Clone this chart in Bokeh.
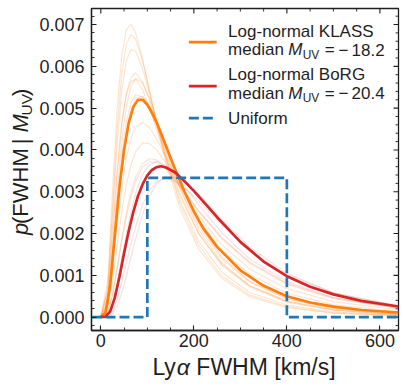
import math
from bokeh.plotting import figure
from bokeh.layouts import row, column
from bokeh.models import Range1d, LinearAxis, SingleIntervalTicker, NumeralTickFormatter, Label
from bokeh.embed import file_html
from bokeh.resources import INLINE

# ---------------- data ----------------
fwhm_main = [0, 10, 20, 30, 40, 50, 60, 70, 80, 90, 100, 110, 120, 130, 140, 150,
             160, 180, 200, 220, 250, 300, 350, 400, 450, 500, 560, 640]
p_klass = [0, 1.0e-4, 7.5e-4, 19.5e-4, 31.0e-4, 40.0e-4, 46.5e-4, 50.3e-4, 52.0e-4, 52.0e-4,
           50.8e-4, 48.9e-4, 46.6e-4, 43.8e-4, 41.0e-4, 38.1e-4, 35.3e-4, 30.0e-4, 25.3e-4,
           21.3e-4, 16.8e-4, 11.2e-4, 7.5e-4, 5.0e-4, 3.5e-4, 2.5e-4, 1.7e-4, 1.1e-4]
p_borg = [0, 0.1e-4, 1.3e-4, 4.6e-4, 9.6e-4, 15.3e-4, 20.6e-4, 25.2e-4, 29.0e-4, 31.8e-4,
          33.9e-4, 35.2e-4, 35.9e-4, 36.1e-4, 35.8e-4, 35.2e-4, 34.6e-4, 32.5e-4, 30.2e-4,
          27.7e-4, 23.9e-4, 18.0e-4, 13.3e-4, 9.8e-4, 7.25e-4, 5.45e-4, 3.9e-4, 2.55e-4]

fwhm_samples = [0, 15, 25, 35, 45, 55, 65, 75, 90, 105, 120, 140, 170, 210, 260, 320, 400, 500, 640]
klass_samples = [
    [0, 8.8e-4, 29.7e-4, 49.5e-4, 62.5e-4, 68.8e-4, 70.0e-4, 68.0e-4, 61.6e-4, 53.9e-4, 46.1e-4, 36.9e-4, 26.0e-4, 16.3e-4, 9.3e-4, 4.9e-4, 2.25e-4, 0.93e-4, 0.31e-4],
    [0, 7.2e-4, 25.8e-4, 44.8e-4, 58.2e-4, 65.3e-4, 67.6e-4, 66.5e-4, 61.3e-4, 54.2e-4, 46.9e-4, 38.0e-4, 27.1e-4, 17.2e-4, 9.9e-4, 5.3e-4, 2.5e-4, 1.0e-4, 0.35e-4],
    [0, 6.7e-4, 23.8e-4, 41.5e-4, 54.2e-4, 61.4e-4, 64.1e-4, 63.6e-4, 59.4e-4, 53.3e-4, 46.6e-4, 38.3e-4, 27.9e-4, 18.2e-4, 10.8e-4, 5.9e-4, 2.9e-4, 1.24e-4, 0.44e-4],
    [0, 4.8e-4, 18.5e-4, 33.7e-4, 45.8e-4, 53.6e-4, 57.4e-4, 58.4e-4, 56.2e-4, 51.8e-4, 46.5e-4, 39.2e-4, 29.7e-4, 20.1e-4, 12.5e-4, 7.2e-4, 3.6e-4, 1.64e-4, 0.62e-4],
    [0, 3.6e-4, 15.3e-4, 29.7e-4, 42.0e-4, 50.5e-4, 55.3e-4, 57.1e-4, 56.0e-4, 52.3e-4, 47.3e-4, 40.3e-4, 30.8e-4, 21.0e-4, 13.0e-4, 7.5e-4, 3.7e-4, 1.7e-4, 0.62e-4],
    [0, 3.6e-4, 14.5e-4, 27.6e-4, 38.8e-4, 46.7e-4, 51.3e-4, 53.2e-4, 52.7e-4, 49.8e-4, 45.6e-4, 39.5e-4, 30.9e-4, 21.8e-4, 14.0e-4, 8.4e-4, 4.4e-4, 2.1e-4, 0.83e-4],
    [0, 2.6e-4, 11.9e-4, 24.3e-4, 35.7e-4, 44.2e-4, 49.7e-4, 52.4e-4, 52.8e-4, 50.5e-4, 46.6e-4, 40.7e-4, 32.0e-4, 22.5e-4, 14.4e-4, 8.6e-4, 4.4e-4, 2.1e-4, 0.79e-4],
    [0, 2.7e-4, 11.0e-4, 21.4e-4, 30.9e-4, 38.1e-4, 42.8e-4, 45.5e-4, 46.6e-4, 45.3e-4, 42.7e-4, 38.3e-4, 31.4e-4, 23.4e-4, 16.0e-4, 10.2e-4, 5.7e-4, 3.0e-4, 1.28e-4],
    [0, 2.0e-4, 8.4e-4, 16.9e-4, 25.1e-4, 31.7e-4, 36.5e-4, 39.6e-4, 41.7e-4, 41.5e-4, 40.0e-4, 36.9e-4, 31.3e-4, 24.3e-4, 17.3e-4, 11.5e-4, 6.8e-4, 3.7e-4, 1.7e-4],
    [0, 1.1e-4, 5.4e-4, 11.9e-4, 18.9e-4, 25.0e-4, 30.0e-4, 33.6e-4, 36.8e-4, 37.9e-4, 37.6e-4, 35.7e-4, 31.5e-4, 25.4e-4, 18.8e-4, 12.9e-4, 7.9e-4, 4.4e-4, 2.1e-4],
    [0, 6.0e-4, 20.5e-4, 35.4e-4, 46.5e-4, 53.3e-4, 56.4e-4, 56.9e-4, 54.4e-4, 50.0e-4, 44.9e-4, 38.0e-4, 29.0e-4, 20.0e-4, 12.6e-4, 7.5e-4, 3.9e-4, 1.8e-4, 0.73e-4],
]
borg_samples = [
    [0, 0.45e-4, 3.0e-4, 7.9e-4, 13.9e-4, 20.0e-4, 25.3e-4, 29.7e-4, 34.2e-4, 36.5e-4, 37.2e-4, 36.3e-4, 32.8e-4, 27.0e-4, 20.2e-4, 13.9e-4, 8.5e-4, 4.7e-4, 2.1e-4],
    [0, 0.15e-4, 1.3e-4, 4.2e-4, 8.3e-4, 12.9e-4, 17.6e-4, 21.8e-4, 26.9e-4, 30.4e-4, 32.4e-4, 33.3e-4, 31.9e-4, 27.8e-4, 22.0e-4, 15.9e-4, 10.1e-4, 5.8e-4, 2.7e-4],
    [0, 1.0e-4, 5.0e-4, 11.3e-4, 18.0e-4, 24.0e-4, 28.9e-4, 32.6e-4, 35.9e-4, 37.2e-4, 37.0e-4, 35.3e-4, 31.3e-4, 25.4e-4, 19.0e-4, 13.2e-4, 8.1e-4, 4.6e-4, 2.2e-4],
    [0, 0.05e-4, 0.67e-4, 2.6e-4, 5.8e-4, 9.9e-4, 14.4e-4, 18.8e-4, 24.6e-4, 29.0e-4, 31.9e-4, 33.7e-4, 33.2e-4, 29.5e-4, 23.4e-4, 16.8e-4, 10.5e-4, 5.8e-4, 2.6e-4],
]
uniform_fwhm = [-20, 100, 100, 400, 400, 640]
uniform_p = [0, 0, 0.003333, 0.003333, 0, 0]

x_major_step, x_minor_step = 200, 50
y_major_step, y_minor_step = 0.001, 0.0002

# ---------------- styling / layout ----------------
ORANGE = "#ff7f0e"
RED = "#d62728"
BLUE = "#1f77b4"
INK = "#1f1f1f"
FONT = "Liberation Sans"

XR = (-20, 640)
YR = (-0.00032, 0.0073835)

YLAB_W = 36                  # left strip for rotated y label
MAIN_W, MAIN_H = 371, 354
XLAB_H = 34
MB_L, MB_R, MB_T, MB_B = 53, 9, 8, 24
FX0 = YLAB_W + MB_L
FX1 = YLAB_W + MAIN_W - MB_R
FY0 = MB_T
FY1 = MAIN_H - MB_B
MID = 0.35                   # cap-centre above the baseline, in em


def X(px):
    return XR[0] + (px - FX0) * (XR[1] - XR[0]) / (FX1 - FX0)


def Y(py):
    return YR[1] - (py - FY0) * (YR[1] - YR[0]) / (FY1 - FY0)


ADV = {' ': 278, '(': 333, ')': 333, '-': 333, '.': 278, '/': 278, '=': 584, '[': 278,
       ']': 278, '|': 260, 'A': 667, 'B': 667, 'F': 611, 'G': 778, 'H': 722, 'K': 667,
       'L': 556, 'M': 833, 'R': 722, 'S': 667, 'U': 722, 'V': 667, 'W': 944, 'a': 556,
       'd': 556, 'e': 556, 'f': 278, 'g': 556, 'i': 222, 'k': 500, 'l': 222, 'm': 833,
       'n': 556, 'o': 556, 'p': 556, 'r': 333, 's': 500, 'y': 500, 'u': 556, '\u2212': 584,
       '\u03b1': 578}


def tw(s, size):
    return sum(ADV.get(c, 556) for c in s) * size / 1000.0


def bare(fig):
    fig.background_fill_color = "white"
    fig.border_fill_color = "white"
    fig.outline_line_color = None
    fig.grid.visible = False


# ---------------- main figure ----------------
p = figure(width=MAIN_W, height=MAIN_H, output_backend="svg", toolbar_location=None,
           x_range=Range1d(*XR), y_range=Range1d(*YR),
           min_border_left=MB_L, min_border_right=MB_R, min_border_top=MB_T, min_border_bottom=MB_B,
           x_axis_location=None, y_axis_location=None)
bare(p)
p.outline_line_color = INK
p.outline_line_width = 1.3


def make_axis(side):
    ax = LinearAxis()
    if side == "below":
        ax.ticker = SingleIntervalTicker(interval=x_major_step, num_minor_ticks=4)
        ax.major_label_standoff = 3
    else:
        ax.ticker = SingleIntervalTicker(interval=y_major_step, num_minor_ticks=5)
        ax.formatter = NumeralTickFormatter(format="0.000")
        ax.major_label_standoff = 7
    ax.major_tick_in = 5
    ax.major_tick_out = 0
    ax.minor_tick_in = 3
    ax.minor_tick_out = 0
    ax.axis_line_color = INK
    ax.axis_line_width = 1.3
    ax.major_tick_line_color = INK
    ax.major_tick_line_width = 1.1
    ax.minor_tick_line_color = INK
    ax.minor_tick_line_width = 0.9
    ax.major_label_text_font = FONT
    ax.major_label_text_color = INK
    ax.major_label_text_font_size = "18px"
    p.add_layout(ax, side)


make_axis("below")
make_axis("left")

# mirrored ticks on the top and right edges (same tick steps as the axes)
dx_major = 5 * (XR[1] - XR[0]) / (FX1 - FX0)
dx_minor = 3 * (XR[1] - XR[0]) / (FX1 - FX0)
dy_major = 5 * (YR[1] - YR[0]) / (FY1 - FY0)
dy_minor = 3 * (YR[1] - YR[0]) / (FY1 - FY0)
tx_major, tx_minor = [], []
k = math.ceil(XR[0] / x_minor_step)
while k * x_minor_step <= XR[1]:
    v = k * x_minor_step
    (tx_major if v % x_major_step == 0 else tx_minor).append(v)
    k += 1
ty_major, ty_minor = [], []
k = math.ceil(YR[0] / y_minor_step - 1e-9)
while k * y_minor_step <= YR[1] + 1e-12:
    v = k * y_minor_step
    (ty_major if k % 5 == 0 else ty_minor).append(v)
    k += 1
p.segment(x0=tx_major, y0=[YR[1]] * len(tx_major), x1=tx_major, y1=[YR[1] - dy_major] * len(tx_major),
          line_color=INK, line_width=1.1)
p.segment(x0=tx_minor, y0=[YR[1]] * len(tx_minor), x1=tx_minor, y1=[YR[1] - dy_minor] * len(tx_minor),
          line_color=INK, line_width=0.9)
p.segment(x0=[XR[1]] * len(ty_major), y0=ty_major, x1=[XR[1] - dx_major] * len(ty_major), y1=ty_major,
          line_color=INK, line_width=1.1)
p.segment(x0=[XR[1]] * len(ty_minor), y0=ty_minor, x1=[XR[1] - dx_minor] * len(ty_minor), y1=ty_minor,
          line_color=INK, line_width=0.9)

# faint posterior samples
for ys in borg_samples:
    p.line(fwhm_samples, ys, line_color=RED, line_alpha=0.14, line_width=1.2)
for ys in klass_samples:
    p.line(fwhm_samples, ys, line_color=ORANGE, line_alpha=0.2, line_width=1.2)

p.line(fwhm_main, p_klass, line_color=ORANGE, line_width=2.7)
p.line(fwhm_main, p_borg, line_color=RED, line_width=2.7)
p.line(uniform_fwhm, uniform_p, line_color=BLUE, line_width=2.7, line_dash="10 4")

# ---------------- legend (manual, for mixed text styles) ----------------
LEG_X0, LEG_X1 = 187, 215
TXT_X = 226.5
LFS = 17
SFS = LFS * 0.7

p.line([X(LEG_X0), X(LEG_X1)], [Y(41.7), Y(41.7)], line_color=ORANGE, line_width=2.7)
p.line([X(LEG_X0), X(LEG_X1)], [Y(85.7), Y(85.7)], line_color=RED, line_width=2.7)
p.line([X(LEG_X0), X(LEG_X1)], [Y(117.7), Y(117.7)], line_color=BLUE, line_width=2.7, line_dash="10 4")


def label(fig, x, y, s, size, style="normal", angle=0.0):
    fig.add_layout(Label(x=x, y=y, text=s, text_font=FONT, text_font_size=f"{size:.1f}px",
                         text_font_style=style, text_color=INK, text_align="left",
                         text_baseline="middle", angle=angle, angle_units="rad"))


def pieces(parts):
    """parts: (text, style, size, shift, gap_before) -> list with running offsets"""
    out, off = [], 0.0
    for s, st, sz, sh, gap in parts:
        off += gap
        out.append((off, s, st, sz, sh))
        off += tw(s, sz)
    return out, off


def hline(px, base_py, s, size, style="normal"):
    # base_py: page y of the text baseline
    label(p, X(px), Y(base_py - MID * size), s, size, style)


def median_line(py, val):
    sp = tw(" ", LFS)
    parts = [("median", "normal", LFS, 0, 0), ("M", "italic", LFS, 0, sp),
             ("UV", "normal", SFS, 3.2, 0.5), ("=", "normal", LFS, 0, 1.2 * sp),
             ("\u2212", "normal", LFS, 0, 0.8 * sp), (val, "normal", LFS, 0, 0.7 * sp)]
    lst, _ = pieces(parts)
    for off, s, st, sz, sh in lst:
        hline(TXT_X + off, py + sh, s, sz, st)


hline(TXT_X, 36.8, "Log-normal KLASS", LFS)
median_line(55.4, "18.2")
hline(TXT_X, 80.1, "Log-normal BoRG", LFS)
median_line(98.8, "20.4")
hline(TXT_X, 123.5, "Uniform", LFS)

# ---------------- axis labels (separate strips so they are not clipped) ----------------
YFS = 22
XFS = 23
ylab = figure(width=YLAB_W, height=MAIN_H, output_backend="svg", toolbar_location=None,
              x_range=Range1d(0, YLAB_W), y_range=Range1d(0, MAIN_H),
              min_border=0, x_axis_location=None, y_axis_location=None)
bare(ylab)
yparts = [("p", "italic", YFS, 0, 0), ("(FWHM", "normal", YFS, 0, 0), ("|", "normal", YFS, 0, 12),
          ("M", "italic", YFS, 0, 7), ("UV", "normal", YFS * 0.7, 4.0, 0.5), (")", "normal", YFS, 0, 0)]
lst, tot = pieces(yparts)
center = (FY0 + FY1) / 2
start = (MAIN_H - center) - tot / 2      # data y in strip (bottom-up)
base_x = 27.5                            # page x of the rotated baseline
for off, s, st, sz, sh in lst:
    label(ylab, base_x + sh - MID * sz, start + off, s, sz, st, angle=math.pi / 2)

xlab = figure(width=YLAB_W + MAIN_W, height=XLAB_H, output_backend="svg", toolbar_location=None,
              x_range=Range1d(0, YLAB_W + MAIN_W), y_range=Range1d(0, XLAB_H),
              min_border=0, x_axis_location=None, y_axis_location=None)
bare(xlab)
spx = tw(" ", XFS)
xparts = [("Ly", "normal", XFS, 0, 0), ("\u03b1", "italic", XFS, 0, 0), ("FWHM", "normal", XFS, 0, spx),
          ("[km/s]", "normal", XFS, 0, spx)]
lst, tot = pieces(xparts)
x_start = (FX0 + FX1) / 2 - tot / 2
base_y = MAIN_H + XLAB_H - 375           # strip data y of the baseline (page y 375)
for off, s, st, sz, sh in lst:
    label(xlab, x_start + off, base_y - sh + MID * sz, s, sz, st)

layout = column(row(ylab, p, spacing=0), xlab, spacing=0)
open("out.html", "w").write(file_html(layout, INLINE))
